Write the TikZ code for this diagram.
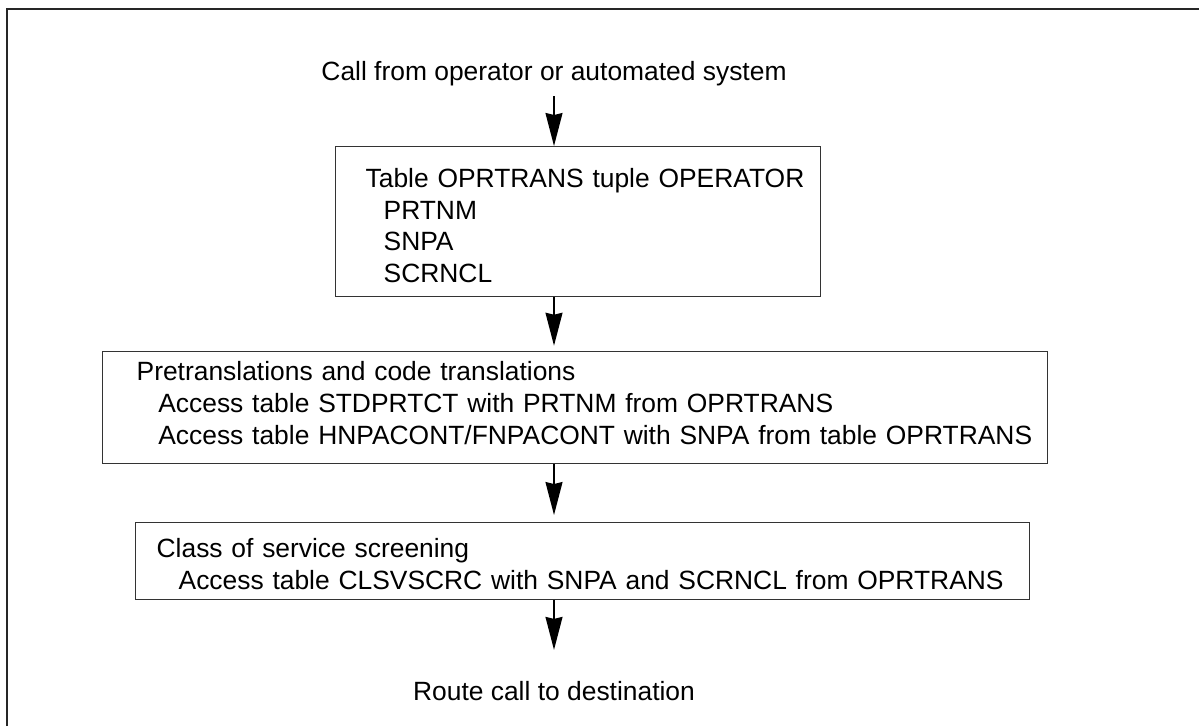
\documentclass[tikz,border=0pt]{standalone}
\usepackage{fontspec}
\setmainfont{Liberation Sans}
\usepackage{tikz}
\usetikzlibrary{arrows.meta}
\newcommand{\flowfont}{\fontsize{26.4pt}{31.8pt}\selectfont}

\begin{document}
\begin{tikzpicture}[x=1pt, y=-1pt,
  stage/.style={draw=black!80, line width=1.3pt, anchor=north west, align=left, inner sep=0pt, font=\flowfont},
  lpad/.style={execute at begin node={\leftskip=#1\relax}},
  plain/.style={anchor=base, inner sep=0pt, font=\flowfont},
  flow/.style={-{Stealth[length=33pt, width=17pt, inset=2pt]}, line width=1.5pt},
  frame/.style={draw=black!85, line width=1.6pt}]

\useasboundingbox (0,0) rectangle (1199,726);
\draw[frame] (7,726) -- (7,9) -- (1199,9);

\node[plain] (origin) at (554,80) {Call from operator or automated system};

\node[stage, lpad=30.3pt, text width=485.3pt, text height=40.7pt, text depth=109.3pt] (oprtrans) at (334.7,146)
  {Table OPRTRANS tuple OPERATOR\\\hspace*{18pt}PRTNM\\\hspace*{18pt}SNPA\\\hspace*{18pt}SCRNCL};

\node[stage, lpad=34.3pt, text width=945pt, text height=29.3pt, text depth=82.7pt] (pretrans) at (101.7,350.7)
  {Pretranslations and code translations\\\hspace*{21.7pt}Access table STDPRTCT with PRTNM from OPRTRANS\\\hspace*{21.7pt}Access table HNPACONT/FNPACONT with SNPA from table OPRTRANS};

\node[stage, lpad=21.3pt, text width=894.3pt, text height=34.7pt, text depth=41.8pt] (screen) at (134.7,522)
  {Class of service screening\\\hspace*{22pt}Access table CLSVSCRC with SNPA and SCRNCL from OPRTRANS};

\node[plain] (route) at (554,700) {Route call to destination};

% flow down the chain
\draw[flow, shorten <=10.5pt] (origin.south) -- (origin.south |- oprtrans.north);
\draw[flow, shorten >=5pt] (origin |- oprtrans.south) -- (origin |- pretrans.north);
\draw[flow, shorten >=7pt] (origin |- pretrans.south) -- (origin |- screen.north);
\draw[flow, shorten >=30.8pt] (origin |- screen.south) -- (route.north);
\end{tikzpicture}
\end{document}
